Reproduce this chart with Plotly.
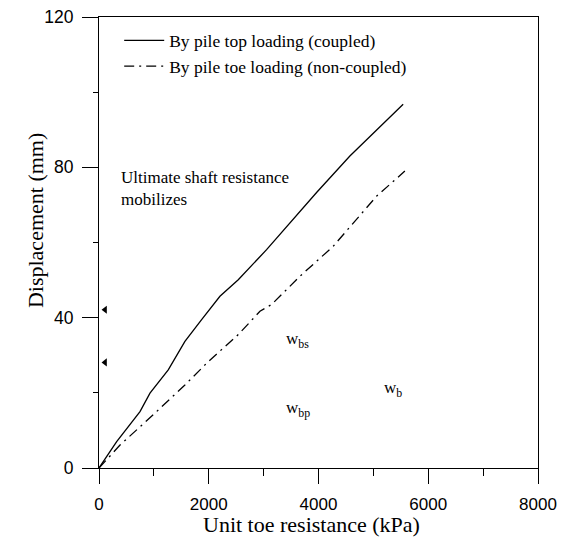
import plotly.graph_objects as go

# Solid: by pile top loading (coupled)
top_x = [0, 322, 747, 929, 1262, 1566, 1870, 2204, 2538, 3054, 3965, 4572, 5543]
top_y = [0, 7.0, 15.0, 19.9, 26.1, 33.7, 39.5, 45.7, 50.1, 58.1, 73.3, 83.0, 96.8]

# Dash-dot: by pile toe loading (non-coupled)
toe_x = [0, 383, 1020, 1566, 1991, 2538, 2933, 3145, 3661, 4268, 5057, 5574]
toe_y = [0, 6.1, 14.6, 22.1, 28.3, 35.5, 41.7, 43.5, 51.0, 59.0, 72.3, 79.0]

# Small arrow markers on left axis
arrow_x = [110, 110]
arrow_y = [42.1, 28.1]

x_ticks = [0, 2000, 4000, 6000, 8000]
y_ticks = [0, 40, 80, 120]

serif = "Liberation Serif, Times New Roman, serif"
sans = "Liberation Sans, Arial, sans-serif"

fig = go.Figure()
fig.add_trace(go.Scatter(x=top_x, y=top_y, mode="lines",
                         line=dict(color="black", width=1.3),
                         name="By pile top loading (coupled)"))
fig.add_trace(go.Scatter(x=toe_x, y=toe_y, mode="lines",
                         line=dict(color="black", width=1.3, dash="10px,5px,2px,5px"),
                         name="By pile toe loading (non-coupled)"))
fig.add_trace(go.Scatter(x=arrow_x, y=arrow_y, mode="markers",
                         marker=dict(symbol="triangle-left", size=7, color="black"),
                         showlegend=False, hoverinfo="skip"))

fig.add_annotation(x=360, y=74.5, xref="x", yref="y", text="Ultimate shaft resistance<br>mobilizes",
                   showarrow=False, xanchor="left", yanchor="middle", align="left",
                   font=dict(family=serif, size=17, color="black"))
fig.add_annotation(x=3370, y=34.1, xref="x", yref="y", text="w<sub>bs</sub>",
                   showarrow=False, xanchor="left", yanchor="middle",
                   font=dict(family=serif, size=17, color="black"))
fig.add_annotation(x=3370, y=15.7, xref="x", yref="y", text="w<sub>bp</sub>",
                   showarrow=False, xanchor="left", yanchor="middle",
                   font=dict(family=serif, size=17, color="black"))
fig.add_annotation(x=5160, y=21.0, xref="x", yref="y", text="w<sub>b</sub>",
                   showarrow=False, xanchor="left", yanchor="middle",
                   font=dict(family=serif, size=17, color="black"))

# Axis titles
fig.add_annotation(x=0.484, y=-0.126, xref="paper", yref="paper", text="Unit toe resistance (kPa)",
                   showarrow=False, xanchor="center", yanchor="middle",
                   font=dict(family=serif, size=22, color="black"))
fig.add_annotation(x=-0.143, y=0.548, xref="paper", yref="paper", text="Displacement (mm)",
                   showarrow=False, xanchor="center", yanchor="middle", textangle=-90,
                   font=dict(family=serif, size=22, color="black"))

fig.update_layout(
    width=552, height=535,
    margin=dict(l=91, r=22, t=9, b=75, autoexpand=False),
    paper_bgcolor="white", plot_bgcolor="white",
    showlegend=True,
    legend=dict(x=0.046, y=0.988, xanchor="left", yanchor="top",
                bgcolor="rgba(0,0,0,0)", borderwidth=0,
                font=dict(family=serif, size=17.5, color="black"),
                itemwidth=40, tracegroupgap=0),
)
fig.update_xaxes(
    range=[0, 8000], tickvals=x_ticks, ticktext=[str(v) for v in x_ticks],
    showline=True, mirror=True, linecolor="black", linewidth=1.2,
    ticks="outside", ticklen=15, tickwidth=1.2, tickcolor="black",
    minor=dict(tickvals=[1000, 3000, 5000, 7000], ticks="outside", ticklen=7, tickwidth=1.2, tickcolor="black"),
    showgrid=False, zeroline=False, ticklabeloverflow="allow", ticklabelstandoff=5,
    tickfont=dict(family=sans, size=17, color="black"),
)
fig.update_yaxes(
    range=[0, 120], tickvals=y_ticks, ticktext=[f"{v}\u00a0" for v in y_ticks],
    showline=True, mirror=True, linecolor="black", linewidth=1.2,
    ticks="outside", ticklen=16, tickwidth=1.2, tickcolor="black",
    minor=dict(tickvals=[20, 60, 100], ticks="outside", ticklen=5, tickwidth=1.2, tickcolor="black"),
    showgrid=False, zeroline=False, ticklabeloverflow="allow",
    tickfont=dict(family=sans, size=17.5, color="black"),
)

fig.write_html("out.html")
